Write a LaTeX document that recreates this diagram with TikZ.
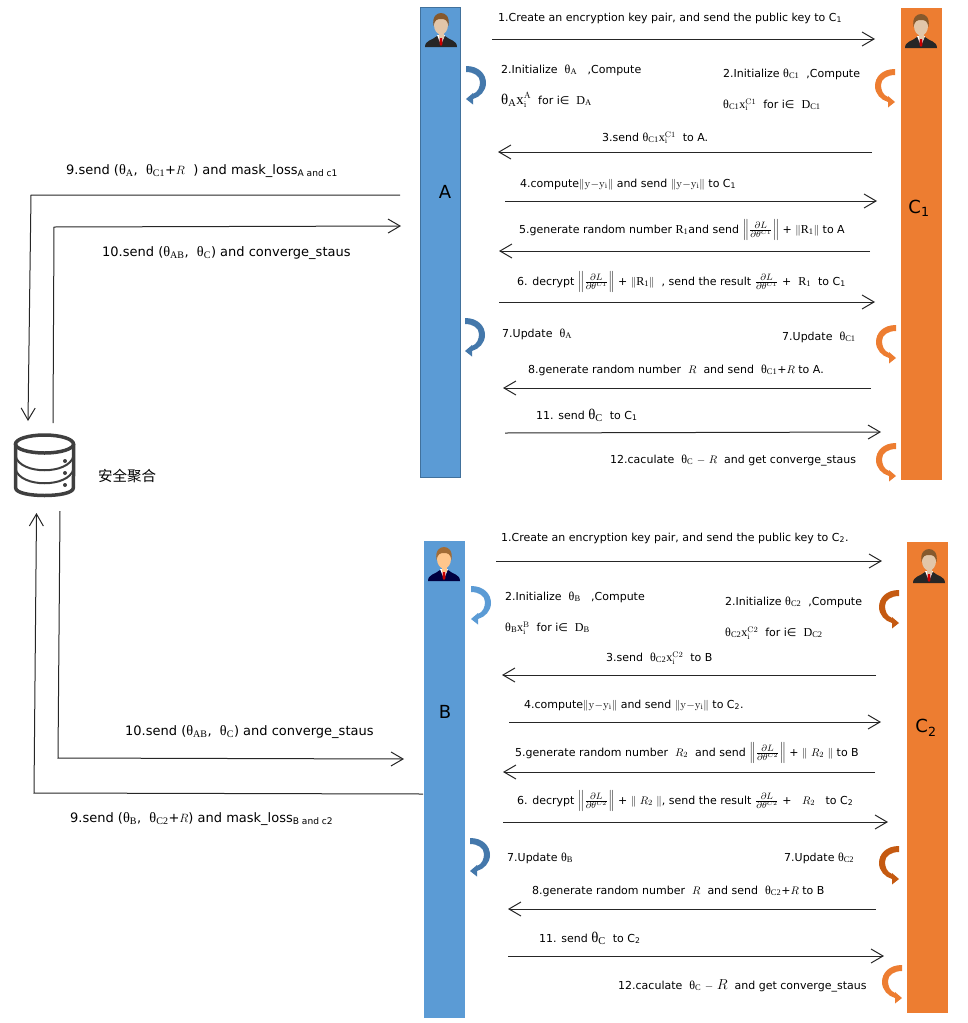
\documentclass[tikz,border=0pt]{standalone}
\usepackage[no-math]{fontspec}
\usepackage{graphicx}
\setmainfont{DejaVu Sans}
\newfontfamily\symfont[Scale=1.1]{Liberation Serif}
\newfontfamily\cjk{Noto Sans CJK SC}
\usetikzlibrary{arrows.meta}
\definecolor{barblue}{HTML}{5B9BD5}
\definecolor{edgeblue}{HTML}{41719C}
\definecolor{barorange}{HTML}{ED7D31}
\definecolor{darkorange}{HTML}{C55A11}
\definecolor{iconblue}{HTML}{4478AB}
\definecolor{icongray}{HTML}{3F3F3F}
\newcommand{\ths}[1]{{\symfont θ\textsubscript{#1}}}
\newcommand{\dsb}[1]{{\symfont D\textsubscript{#1}}}
\newcommand{\rsb}[1]{{\symfont R\textsubscript{#1}}}
\newcommand{\xsp}[1]{{\symfont x}$_{\mathrm{i}}^{\mathrm{#1}}$}
\newcommand{\nbar}{$\|$}
\newcommand{\nrmy}{$\|\mathrm{y}{-}\mathrm{y_i}\|$}
\newcommand{\grd}[1]{\scalebox{1.15}{$\left\|\frac{\partial L}{\partial\theta^{#1}}\right\|$}}
\newcommand{\frc}[1]{\scalebox{1.15}{$\frac{\partial L}{\partial\theta^{#1}}$}}
\newcommand{\bigtxt}[1]{{\fontsize{13.5}{15}\selectfont #1}}
\tikzset{
    lbl/.style={anchor=base west,inner sep=0pt,font=\fontsize{11}{13}\selectfont},
    lblside/.style={lbl,font=\fontsize{13}{15}\selectfont},
    barnode/.style={rectangle,inner sep=0pt,minimum width=#1},
    barname/.style={inner sep=0pt,font=\fontsize{18}{20}\selectfont},
    msg/.style={->,draw=black!85,line width=1pt},
    pics/turnarrow/.style={code={
        \fill[#1] (0,0) .. controls (13,0) and (20,8) .. (20,17)
            .. controls (20,25) and (14,31) .. (7,33) -- (7,38.5) -- (0,33) -- (7,27) -- (7,28)
            .. controls (12,26) and (14,21) .. (14,16)
            .. controls (14,10) and (8,6) .. (0,6) -- cycle;
    }},
    pics/person/.style n args={3}{code={
        %% shoulders, shirt, tie
        \fill[#3] (-16,34) .. controls (-16,27) and (-8,27) .. (-4,23) -- (4,23)
            .. controls (8,27) and (16,27) .. (16,34) -- cycle;
        \fill[white] (-4,22) -- (4,22) -- (0,32) -- cycle;
        \fill[red!80!black] (-1.2,24) -- (1.2,24) -- (1.5,31) -- (0,33) -- (-1.5,31) -- cycle;
        %% head and hair
        \fill[#2] (-2.5,18) rectangle (2.5,25);
        \fill[#2] (0,12) ellipse (7 and 9.5);
        \fill[#1] (-7.5,13) .. controls (-9,3) and (-4,0) .. (0,0)
            .. controls (4,0) and (9,3) .. (7.5,13) .. controls (6.5,7) and (4,6) .. (0,6)
            .. controls (-4,6) and (-6.5,7) .. (-7.5,13) -- cycle;
    }},
    pics/dbicon/.style={code={
        \draw[icongray,line width=3.5pt] (44.5,444) ellipse (29 and 9);
        \draw[icongray,line width=3.5pt,rounded corners=6pt] (15.5,444) -- (15.5,482)
            .. controls (16,498) and (73,498) .. (73.5,482) -- (73.5,444);
        \draw[icongray,line width=2pt] (15.5,456) .. controls (20,475) and (69,475) .. (73.5,456);
        \draw[icongray,line width=2pt] (15.5,469) .. controls (20,488) and (69,488) .. (73.5,469);
        \foreach \ypos in {461,473,485} \fill[icongray] (65,\ypos) circle (2);
    }}
}
\begin{document}
\begin{tikzpicture}[x=1pt,y=-1pt,>={Straight Barb[length=12pt,width=14pt,line width=1pt]}]
        \useasboundingbox (0,0) rectangle (968,1023);
        %% bars
        \node[barnode=40,minimum height=470,fill=barblue,draw=edgeblue,line width=1pt] (barA) at (440.5,242.5) {};
        \node[barnode=41,minimum height=472,fill=barorange] (barCa) at (921,244) {};
        \node[barnode=41,minimum height=477,fill=barblue] (barB) at (444.5,779.5) {};
        \node[barnode=41,minimum height=471,fill=barorange] (barCb) at (927.5,777.5) {};
        \node[barname] (nameA) at (445,192) {A};
        \node[barname] (nameCa) at (919,208) {C\textsubscript{1}};
        \node[barname] (nameB) at (445,712) {B};
        \node[barname] (nameCb) at (926,728) {C\textsubscript{2}};
        %% people
        \pic at (441,13) {person={brown!70!black}{brown!45!white}{black!85}};
        \pic at (921,14) {person={brown!70!black}{brown!45!white}{black!85}};
        \pic at (444,547) {person={brown!85!black}{orange!45!white}{blue!25!black}};
        \pic at (929,549) {person={brown!70!black}{brown!45!white}{black!85}};
        %% turning arrows
        \pic at (466,66) {turnarrow=iconblue};
        \pic at (465,318) {turnarrow=iconblue};
        \pic at (471,586) {turnarrow=barblue};
        \pic at (470,838) {turnarrow=iconblue};
        \pic[xscale=-1] at (895,69) {turnarrow=barorange};
        \pic[xscale=-1] at (896,325) {turnarrow=barorange};
        \pic[xscale=-1] at (896,443) {turnarrow=barorange};
        \pic[xscale=-1] at (899,590) {turnarrow=darkorange};
        \pic[xscale=-1] at (899,846) {turnarrow=darkorange};
        \pic[xscale=-1] at (902,965) {turnarrow=barorange};
        %% aggregator
        \pic at (0,0) {dbicon};
        \node[lbl,font=\cjk\fontsize{14.5}{16}\selectfont] (agg) at (98,481) {安全聚合};
        %% messages between the bars
        \foreach \n/\xa/\ya/\xb/\yb in {a1/492/39/875/39,a3/872/152/498/152,a4/505/201/877/201,a5/870/251/499/251,
            a6/499/302/875/302,a8/871/388/503/388,a11/505/433/881/432,
            b1/496/561/882/561,b3/876/675/502/675,b4/509/722/881/722,b5/875/772/503/772,
            b6/503/822/888/822,b8/876/909/508/909,b11/508/956/884/956} {
            \coordinate (s\n) at (\xa,\ya);
            \coordinate (e\n) at (\xb,\yb);
            \draw[msg] (s\n) -- (e\n);
        }
        %% messages to and from the aggregator
        \coordinate (sup9) at (400,195);
        \coordinate (cup9) at (31,195);
        \coordinate (eup9) at (28,421);
        \draw[msg] (sup9) -- (cup9) -- (eup9);
        \coordinate (sup10) at (53,423);
        \coordinate (cup10) at (54,227);
        \coordinate (eup10) at (401,226);
        \draw[msg] (sup10) -- (cup10) -- (eup10);
        \coordinate (slo9) at (423,794);
        \coordinate (clo9) at (34,793);
        \coordinate (elo9) at (36.5,513);
        \draw[msg] (slo9) -- (clo9) -- (elo9);
        \coordinate (slo10) at (60,511);
        \coordinate (clo10) at (58,758);
        \coordinate (elo10) at (404,759);
        \draw[msg] (slo10) -- (clo10) -- (elo10);
        %% upper labels
        \node[lbl] (la1) at (498,21) {1.Create an encryption key pair, and send the public key to C\textsubscript{1}};
        \node[lbl] (la2) at (501,73) {2.Initialize \ \ths{A} \ \ ,Compute};
        \node[lbl] (la2b) at (501,104) {\bigtxt{\ths{A}\xsp{A}} \ for i∈ \ \dsb{A}};
        \node[lbl] (lc2) at (723,77) {2.Initialize \ths{C1} \ ,Compute};
        \node[lbl] (lc2b) at (723,108) {\ths{C1}\xsp{C1} \ for i∈ \ \dsb{C1}};
        \node[lbl] (la3) at (602,141) {3.send \ths{C1}\xsp{C1} \ to A.};
        \node[lbl] (la4) at (520,187) {4.compute\nrmy{} and send \nrmy{} to C\textsubscript{1}};
        \node[lbl] (la5) at (519,233) {5.generate random number \rsb{1}and send \grd{C1} + \nbar\rsb{1}\nbar{} to A};
        \node[lbl] (la6) at (517,285) {6. decrypt \grd{C1} + \nbar\rsb{1}\nbar{} \ , send the result \frc{C1} + \ \rsb{1} \ to C\textsubscript{1}};
        \node[lbl] (la7) at (502,337) {7.Update \ \ths{A}};
        \node[lbl] (lc7) at (782,340) {7.Update \ \ths{C1}};
        \node[lbl] (la8) at (528,373) {8.generate random number \ $R$ \ and send \ \ths{C1}+$R$ to A.};
        \node[lbl] (la11) at (536,419) {11. send \bigtxt{\ths{C}} \ to C\textsubscript{1}};
        \node[lbl] (la12) at (610,463) {12.caculate \ \ths{C} $-$ $R$ \ and get converge\_staus};
        \node[lblside] (lup9) at (66,174) {9.send (\ths{A}, \ \ths{C1}+$R$ \ ) and mask\_loss\textsubscript{A and c1}};
        \node[lblside] (lup10) at (102,256) {10.send (\ths{AB}, \ \ths{C}) and converge\_staus};
        %% lower labels
        \node[lbl] (lb1) at (501,541) {1.Create an encryption key pair, and send the public key to C\textsubscript{2}.};
        \node[lbl] (lb2) at (505,600) {2.Initialize \ \ths{B} \ \ ,Compute};
        \node[lbl] (lb2b) at (505,631) {\ths{B}\xsp{B} \ for i∈ \ \dsb{B}};
        \node[lbl] (ld2) at (725,605) {2.Initialize \ths{C2} \ ,Compute};
        \node[lbl] (ld2b) at (725,636) {\ths{C2}\xsp{C2} \ for i∈ \ \dsb{C2}};
        \node[lbl] (lb3) at (606,661) {3.send \ \ths{C2}\xsp{C2} \ to B};
        \node[lbl] (lb4) at (524,708) {4.compute\nrmy{} and send \nrmy{} to C\textsubscript{2}.};
        \node[lbl] (lb5) at (515,756) {5.generate random number \ $R_2$ \ and send \grd{C2} + \nbar{} $R_2$ \nbar{} to B};
        \node[lbl] (lb6) at (517,804) {6. decrypt \grd{C2} + \nbar{} $R_2$ \nbar, send the result \frc{C2} + \ \ $R_2$ \ \ to C\textsubscript{2}};
        \node[lbl] (lb7) at (507,861) {7.Update \ths{B}};
        \node[lbl] (ld7) at (784,861) {7.Update \ths{C2}};
        \node[lbl] (lb8) at (532,894) {8.generate random number \ $R$ \ and send \ \ths{C2}+$R$ to B};
        \node[lbl] (lb11) at (539,942) {11. send \bigtxt{\ths{C}} \ to C\textsubscript{2}};
        \node[lbl] (lb12) at (618,989) {12.caculate \ \ths{C} $-$ \bigtxt{$R$} \ and get converge\_staus};
        \node[lblside] (llo10) at (125,735) {10.send (\ths{AB}, \ \ths{C}) and converge\_staus};
        \node[lblside] (llo9) at (70,822) {9.send (\ths{B}, \ \ths{C2}+$R$) and mask\_loss\textsubscript{B and c2}};
    \end{tikzpicture}
\end{document}
